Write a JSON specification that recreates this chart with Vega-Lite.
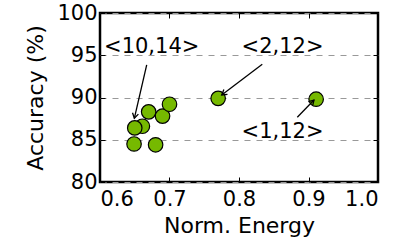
{
  "$schema": "https://vega.github.io/schema/vega-lite/v6.json",
  "autosize": "none",
  "width": 278,
  "height": 169,
  "padding": {"left": 100, "top": 13, "right": 21, "bottom": 67},
  "background": "white",
  "config": {
    "font": "DejaVu Sans",
    "view": {"stroke": "black", "strokeWidth": 2.5},
    "axis": {
      "labelFont": "DejaVu Sans", "titleFont": "DejaVu Sans",
      "labelFontSize": 21, "titleFontSize": 22, "titleFontWeight": "normal",
      "labelColor": "black", "titleColor": "black",
      "domain": false, "tickColor": "black", "tickSize": -5, "tickWidth": 1,
      "labelPadding": 8
    }
  },
  "datasets": {
    "pts": [
      {"energy": 0.661, "acc": 86.6},
      {"energy": 0.650, "acc": 86.4},
      {"energy": 0.670, "acc": 88.3},
      {"energy": 0.690, "acc": 87.8},
      {"energy": 0.700, "acc": 89.2},
      {"energy": 0.649, "acc": 84.5},
      {"energy": 0.680, "acc": 84.4},
      {"energy": 0.770, "acc": 89.9},
      {"energy": 0.911, "acc": 89.8}
    ],
    "arrows": [
      {"x": 0.6672, "y": 93.85, "x2": 0.6494, "y2": 87.54, "angle": 193},
      {"x": 0.8335, "y": 93.93, "x2": 0.7751, "y2": 90.30, "angle": 233},
      {"x": 0.8839, "y": 87.66, "x2": 0.9079, "y2": 89.70, "angle": 44}
    ],
    "labels": [
      {"x": 0.6744, "y": 95.98, "t": "<10,14>"},
      {"x": 0.8626, "y": 95.98, "t": "<2,12>"},
      {"x": 0.8626, "y": 85.95, "t": "<1,12>"}
    ]
  },
  "resolve": {"axis": {"x": "independent", "y": "independent"}},
  "layer": [
    {
      "data": {"name": "pts"},
      "mark": {"type": "point", "filled": true, "fill": "#76b900", "stroke": "black", "strokeWidth": 1.2, "size": 210, "opacity": 1},
      "encoding": {
        "x": {"field": "energy", "type": "quantitative", "scale": {"domain": [0.6, 1.0], "nice": false, "zero": false},
          "axis": {"title": "Norm. Energy", "values": [0.6, 0.7, 0.8, 0.9, 1.0], "format": ".1f", "grid": false, "labelPadding": 11, "titlePadding": 6}},
        "y": {"field": "acc", "type": "quantitative", "scale": {"domain": [80, 100], "nice": false, "zero": false},
          "axis": {"title": "Accuracy (%)", "values": [80, 85, 90, 95, 100], "format": "d", "grid": true,
            "gridDash": [6, 6], "gridColor": "#999999", "gridWidth": 1, "titlePadding": 9}}
      }
    },
    {
      "data": {"name": "arrows"},
      "mark": {"type": "rule", "color": "black", "strokeWidth": 1.3},
      "encoding": {
        "x": {"field": "x", "type": "quantitative", "axis": {"orient": "top", "labels": false, "title": null, "grid": false, "values": [0.6, 0.7, 0.8, 0.9, 1.0]}},
        "y": {"field": "y", "type": "quantitative", "axis": {"orient": "right", "labels": false, "title": null, "grid": false, "values": [80, 85, 90, 95, 100]}},
        "x2": {"field": "x2"},
        "y2": {"field": "y2"}
      }
    },
    {
      "data": {"name": "arrows"},
      "mark": {"type": "point", "shape": "M-0.6,1L0,0L0.6,1", "filled": false, "stroke": "black", "strokeWidth": 1.3, "size": 100, "opacity": 1},
      "encoding": {
        "x": {"field": "x2", "type": "quantitative", "axis": null},
        "y": {"field": "y2", "type": "quantitative", "axis": null},
        "angle": {"field": "angle", "type": "quantitative", "scale": null}
      }
    },
    {
      "data": {"name": "labels"},
      "mark": {"type": "text", "fontSize": 21, "font": "DejaVu Sans", "align": "center", "baseline": "middle", "color": "black"},
      "encoding": {
        "x": {"field": "x", "type": "quantitative", "axis": null},
        "y": {"field": "y", "type": "quantitative", "axis": null},
        "text": {"field": "t"}
      }
    }
  ]
}
